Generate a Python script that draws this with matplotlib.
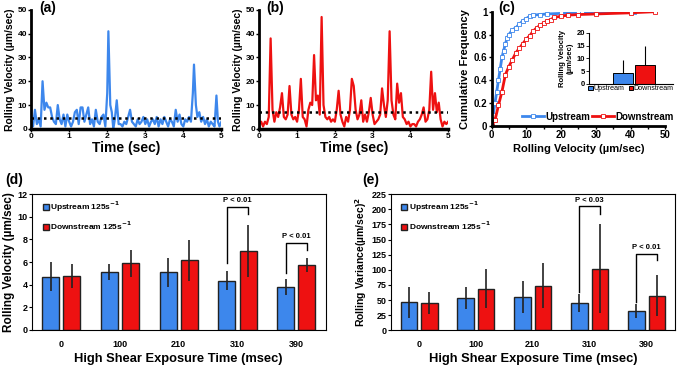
import numpy as np
import matplotlib
matplotlib.use("Agg")
import matplotlib.pyplot as plt

plt.rcParams['font.family'] = ['Liberation Sans', 'DejaVu Sans']
plt.rcParams['font.weight'] = 'bold'
plt.rcParams['axes.labelweight'] = 'bold'
plt.rcParams['mathtext.default'] = 'bf'

BLUE = '#3d87ec'
RED = '#ee1111'

# (a) upstream time series
t_up = [0, 0.05, 0.1, 0.15, 0.2, 0.25, 0.3, 0.35, 0.4, 0.45, 0.5, 0.55, 0.6, 0.65, 0.7, 0.75,
        0.8, 0.85, 0.9, 0.95, 1.0, 1.05, 1.1, 1.15, 1.2, 1.25, 1.3, 1.35, 1.4, 1.45, 1.5, 1.55,
        1.6, 1.65, 1.7, 1.75, 1.8, 1.85, 1.9, 1.95, 2.0, 2.03, 2.08, 2.12, 2.16, 2.2, 2.25, 2.3,
        2.35, 2.4, 2.45, 2.5, 2.55, 2.6, 2.65, 2.7, 2.75, 2.8, 2.85, 2.9, 2.95, 3.0, 3.05, 3.1,
        3.15, 3.2, 3.25, 3.3, 3.35, 3.4, 3.45, 3.5, 3.55, 3.6, 3.65, 3.7, 3.75, 3.8, 3.85, 3.9,
        3.95, 4.0, 4.05, 4.1, 4.15, 4.2, 4.25, 4.28, 4.33, 4.37, 4.42, 4.47, 4.52, 4.57, 4.62,
        4.67, 4.72, 4.77, 4.82, 4.87, 4.91, 4.95, 5.0]
v_up = [3, 1, 8, 2, 4, 1, 20, 8, 11, 9, 9, 5, 3, 2, 10, 4,
        2, 6, 1, 6, 3, 1, 3, 7, 8, 2, 9, 9, 3, 6, 9, 2,
        4, 1, 8, 3, 2, 5, 6, 1, 15, 41, 10, 7, 0, 4, 12, 2,
        2, 1, 3, 2, 5, 8, 3, 2, 1, 4, 2, 3, 5, 2, 4, 1,
        3, 4, 2, 5, 1, 4, 2, 5, 3, 1, 4, 3, 1, 8, 3, 6,
        2, 1, 4, 3, 5, 3, 15, 27, 10, 5, 7, 3, 5, 2, 4,
        1, 3, 2, 1, 14, 3, 1, 3]
mean_up = 4.5

# (b) downstream time series
t_dn = [0, 0.05, 0.1, 0.15, 0.2, 0.25, 0.3, 0.35, 0.4, 0.45, 0.5, 0.55, 0.6, 0.65, 0.7, 0.75,
        0.8, 0.85, 0.9, 0.95, 1.0, 1.05, 1.1, 1.15, 1.2, 1.25, 1.3, 1.35, 1.4, 1.45, 1.5, 1.55,
        1.6, 1.65, 1.7, 1.75, 1.8, 1.85, 1.9, 1.95, 2.0, 2.05, 2.1, 2.15, 2.2, 2.25, 2.3, 2.35,
        2.4, 2.45, 2.5, 2.55, 2.6, 2.65, 2.7, 2.75, 2.8, 2.85, 2.9, 2.95, 3.0, 3.05, 3.1, 3.15,
        3.2, 3.25, 3.3, 3.35, 3.4, 3.45, 3.5, 3.55, 3.6, 3.65, 3.7, 3.75, 3.8, 3.85, 3.9, 3.95,
        4.0, 4.05, 4.1, 4.15, 4.2, 4.25, 4.3, 4.35, 4.4, 4.45, 4.5, 4.55, 4.6, 4.65, 4.7, 4.75,
        4.8, 4.85, 4.9, 4.95, 5.0]
v_dn = [2, 3, 1, 3, 2, 5, 38, 8, 3, 7, 5, 9, 15, 5, 4, 6,
        18, 6, 4, 5, 3, 8, 21, 5, 4, 1, 8, 11, 10, 31, 12, 14,
        6, 47, 10, 5, 4, 5, 3, 4, 3, 8, 16, 6, 3, 1, 5, 3,
        8, 21, 18, 8, 4, 6, 12, 3, 6, 3, 7, 13, 6, 2, 3, 4,
        6, 17, 10, 5, 12, 41, 12, 6, 4, 19, 11, 15, 5, 4, 2, 3,
        1, 2, 2, 1, 3, 4, 6, 9, 3, 4, 8, 24, 8, 15, 7, 11,
        4, 1, 3, 2, 3]
mean_dn = 7.0

# (c) cumulative frequency
cx_up = [0, 0.5, 1, 1.5, 2, 2.5, 3, 3.5, 4, 4.5, 5, 6, 7, 8, 9, 10, 11, 12, 14, 16, 20, 25, 26, 41]
cy_up = [0, 0.1, 0.2, 0.3, 0.4, 0.5, 0.6, 0.66, 0.72, 0.77, 0.8, 0.84, 0.86, 0.89, 0.92, 0.94,
         0.96, 0.97, 0.975, 0.98, 0.985, 0.99, 1.0, 1.0]
cx_dn = [0, 1, 2, 3, 4, 5, 6, 7, 8, 9, 10, 11, 12, 13, 14, 15, 16, 17, 18, 20, 22, 25, 30, 40, 47]
cy_dn = [0, 0.05, 0.18, 0.3, 0.45, 0.52, 0.58, 0.64, 0.68, 0.72, 0.76, 0.79, 0.83, 0.86, 0.88,
         0.9, 0.92, 0.93, 0.95, 0.96, 0.97, 0.975, 0.98, 0.99, 1.0]
inset_names = ['Upstream', 'Downstream']
inset_vals = [4.3, 7.6]
inset_err = [5.2, 7.4]

# (d) and (e)
times = ['0', '100', '210', '310', '390']
vel_up = [4.7, 5.1, 5.1, 4.35, 3.8]
vel_up_err = [1.3, 0.7, 1.3, 0.85, 0.7]
vel_dn = [4.8, 5.9, 6.15, 7.0, 5.75]
vel_dn_err = [1.05, 1.2, 1.8, 2.3, 0.65]
var_up = [46, 53, 55, 45, 32]
var_up_err = [26, 18, 26, 15, 12]
var_dn = [45, 69, 74, 102, 57]
var_dn_err = [18, 32, 37, 74, 34]
# significance brackets: (group index, blue start, top, red end, label)
sig_d = [(3, 5.95, 10.9, 10.25, 'P < 0.01'), (4, 5.0, 7.7, 7.07, 'P < 0.01')]
sig_e = [(3, 63, 205, 192, 'P < 0.03'), (4, 47, 126, 116, 'P < 0.01')]

fig = plt.figure(figsize=(6.77, 3.65), dpi=100)


def ts_panel(rect, t, v, mean, color, label):
    ax = fig.add_axes(rect)
    ax.plot(t, v, color=color, lw=1.6)
    ax.axhline(mean, color='black', ls=(0, (1, 1.5)), lw=1.8)
    ax.set_xlim(0, 5)
    ax.set_ylim(0, 50)
    ax.set_xticks(range(6))
    ax.set_yticks(range(0, 51, 10))
    for s in ['top', 'right']:
        ax.spines[s].set_visible(False)
    ax.spines['left'].set_linewidth(2)
    ax.spines['bottom'].set_linewidth(2.5)
    ax.tick_params(labelsize=6, length=2, width=1, pad=1)
    ax.set_xlabel('Time (sec)', fontsize=10, labelpad=1)
    ax.set_ylabel('Rolling Velocity (µm/sec)', fontsize=7.5, labelpad=2)
    ax.text(0.085, 1.015, label, transform=ax.transAxes, fontsize=10, va='center',
            ha='center')
    return ax


ts_panel([0.046, 0.647, 0.281, 0.326], t_up, v_up, mean_up, BLUE, '(a)')
ts_panel([0.383, 0.647, 0.279, 0.326], t_dn, v_dn, mean_dn, RED, '(b)')

# (c)
axc = fig.add_axes([0.726, 0.655, 0.257, 0.313])
axc.plot(cx_up, cy_up, color=BLUE, lw=2, marker='s', ms=2.2, mfc='white', mew=0.6,
         label='Upstream')
axc.plot(cx_dn, cy_dn, color=RED, lw=2, marker='s', ms=2.2, mfc='white', mew=0.6,
         label='Downstream')
axc.set_xlim(0, 50)
axc.set_ylim(0, 1)
axc.set_xticks(range(0, 51, 10))
axc.set_xticks(range(0, 51, 5), minor=True)
axc.set_yticks([0, 0.2, 0.4, 0.6, 0.8, 1])
axc.set_yticklabels(['0', '0.2', '0.4', '0.6', '0.8', '1'])
for s in ['top', 'right']:
    axc.spines[s].set_visible(False)
axc.spines['left'].set_linewidth(2)
axc.spines['bottom'].set_linewidth(2)
axc.tick_params(labelsize=7, length=2, width=1, pad=1)
axc.tick_params(which='minor', length=2, width=1)
axc.set_xlabel('Rolling Velocity (µm/sec)', fontsize=8, labelpad=3)
axc.set_ylabel('Cumulative Frequency', fontsize=8, labelpad=3)
axc.text(0.085, 1.035, '(c)', transform=axc.transAxes, fontsize=10, va='center',
         ha='center')
axc.legend(loc='center right', bbox_to_anchor=(1.05, 0.08), ncol=2, frameon=False,
           fontsize=7, handlelength=2.2, columnspacing=0.2, handletextpad=0.2,
           borderaxespad=0, borderpad=0)

# inset
axi = fig.add_axes([0.870, 0.770, 0.124, 0.140])
xi = np.arange(len(inset_names))
for i in range(len(inset_names)):
    axi.bar(xi[i], inset_vals[i], width=0.9, color=[BLUE, RED][i], edgecolor='black',
            lw=0.7, yerr=[[0], [inset_err[i]]], error_kw=dict(lw=0.8, ecolor='black'),
            label=inset_names[i])
axi.set_xlim(-1.55, 2.27)
axi.set_ylim(0, 20)
axi.set_yticks(range(0, 21, 5))
axi.set_xticks([])
axi.patch.set_alpha(0)
for s in ['top', 'right']:
    axi.spines[s].set_visible(False)
axi.spines['left'].set_linewidth(0.8)
axi.spines['bottom'].set_linewidth(0.8)
axi.tick_params(labelsize=5.5, length=2, width=0.6, pad=1)
axi.set_ylabel('Rolling Velocity\n(µm/sec)', fontsize=5.5, labelpad=2)
axi.legend(loc='upper center', bbox_to_anchor=(0.5, 0.0), ncol=2, frameon=False,
           handlelength=0.6, handleheight=0.6, columnspacing=0.6,
           handletextpad=0.1, borderaxespad=0.1, borderpad=0.1,
           prop={'size': 5.1, 'weight': 'normal'})


def bar_panel(rect, up, up_err, dn, dn_err, ymax, ystep, ylabel, sig, ylsize):
    ax = fig.add_axes(rect)
    x = np.arange(len(times))
    w = 0.29
    off = 0.18
    ax.bar(x - off, up, width=w, color=BLUE, edgecolor='#222222', lw=1,
           yerr=up_err, error_kw=dict(lw=1.2, ecolor='#222222'),
           label='Upstream 125s$^{-1}$')
    ax.bar(x + off, dn, width=w, color=RED, edgecolor='#222222', lw=1,
           yerr=dn_err, error_kw=dict(lw=1.2, ecolor='#222222'),
           label='Downstream 125s$^{-1}$')
    ax.set_xlim(-0.5, len(times) - 0.5)
    ax.set_ylim(0, ymax)
    ax.set_yticks(np.arange(0, ymax + 0.01, ystep))
    ax.set_xticks(x)
    ax.set_xticklabels(times)
    ax.tick_params(axis='x', length=0, labelsize=6.5, pad=7)
    ax.tick_params(axis='y', labelsize=6.5, length=2, pad=1)
    for s in ax.spines.values():
        s.set_linewidth(0.8)
    ax.set_xlabel('High Shear Exposure Time (msec)', fontsize=9.3, labelpad=3)
    ax.set_ylabel(ylabel, fontsize=ylsize, labelpad=2)
    ax.legend(loc='upper left', frameon=False, fontsize=6, handlelength=0.7,
              handleheight=0.7, handletextpad=0.2, labelspacing=0.75,
              bbox_to_anchor=(0.02, 1.0), borderaxespad=0.2)
    for i, y0, top, y1, txt in sig:
        xb = x[i] - off
        xr = x[i] + off
        ax.plot([xb, xb, xr, xr], [y0, top, top, y1], color='black', lw=1)
        ax.text((xb + xr) / 2, top + ymax * 0.02, txt, ha='center', va='bottom',
                fontsize=5.5)
    return ax


axd = bar_panel([0.047, 0.096, 0.434, 0.372], vel_up, vel_up_err, vel_dn, vel_dn_err, 12, 2,
                'Rolling Velocity (µm/sec)', sig_d, 8.5)
axd.text(-0.06, 1.105, '(d)', transform=axd.transAxes, fontsize=10, va='center', ha='center')
axe = bar_panel([0.577, 0.095, 0.420, 0.373], var_up, var_up_err, var_dn, var_dn_err, 225, 25,
                'Rolling Variance(µm/sec)$^2$', sig_e, 7.5)
axe.text(-0.07, 1.105, '(e)', transform=axe.transAxes, fontsize=10, va='center', ha='center')

fig.savefig('out.png', dpi=100)
